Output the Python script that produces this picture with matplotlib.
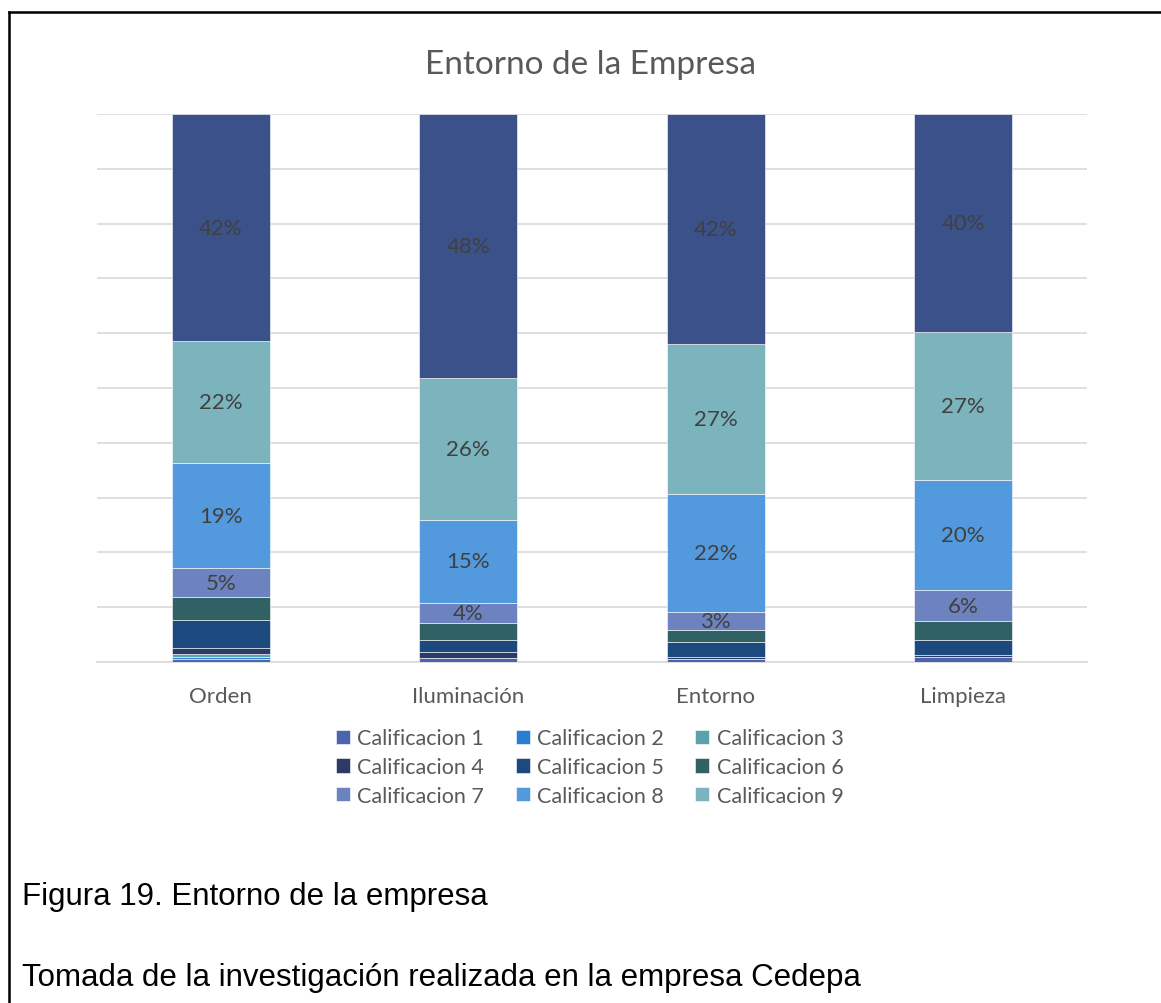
import numpy as np
import matplotlib
matplotlib.use("Agg")
import matplotlib.pyplot as plt
from matplotlib.lines import Line2D

# porcentajes por calificacion (1..10) para cada aspecto evaluado
categorias = ["Orden", "Iluminación", "Entorno", "Limpieza"]
series = ["Calificacion 1", "Calificacion 2", "Calificacion 3", "Calificacion 4",
          "Calificacion 5", "Calificacion 6", "Calificacion 7", "Calificacion 8",
          "Calificacion 9", "Calificacion 10"]

cal1 = [0.6, 0.7, 0.5, 0.9]
cal2 = [0.4, 0.0, 0.0, 0.0]
cal3 = [0.4, 0.0, 0.0, 0.0]
cal4 = [1.1, 1.1, 0.5, 0.3]
cal5 = [5.2, 2.2, 2.6, 2.9]
cal6 = [4.1, 3.1, 2.2, 3.3]
cal7 = [5.3, 3.6, 3.3, 5.8]
cal8 = [19.2, 15.3, 21.5, 20.1]
cal9 = [22.2, 25.8, 27.4, 27.0]
cal10 = [41.5, 48.2, 42.0, 39.7]

colores = ["#4A65AE", "#2A7DD4", "#5BA2AC", "#2B3A67", "#1C4A7E",
           "#306265", "#6C83BF", "#5399DD", "#7BB4BC", "#3B5189"]

valores = np.array([cal1, cal2, cal3, cal4, cal5, cal6, cal7, cal8, cal9, cal10])
etiquetar = [6, 7, 8, 9]  # solo se rotulan las calificaciones 7 a 10

fig = plt.figure(figsize=(11.61, 10.04), dpi=100)
ax = fig.add_axes([0.0835, 0.3396, 0.8527, 0.5458])

x = np.arange(len(categorias))
base = np.zeros(len(categorias))
barras = []
for i, fila in enumerate(valores):
    b = ax.bar(x, fila, 0.396, bottom=base, color=colores[i],
               edgecolor="white", linewidth=0.4, zorder=3, label=series[i])
    barras.append(b)
    if i in etiquetar:
        for xi, v, b0 in zip(x, fila, base):
            ax.text(xi, b0 + v / 2, f"{round(v):.0f}%", ha="center", va="center",
                    fontsize=16, color="#404040", family="Lato", zorder=4)
    base += fila

ax.set_xlim(-0.5, 3.5)
ax.set_ylim(0, 100)
ax.set_yticks(np.arange(0, 101, 10))
ax.yaxis.grid(True, color="#D9D9D9", linewidth=1.2, zorder=0)
ax.tick_params(axis="y", left=False, labelleft=False)
ax.tick_params(axis="x", length=0, pad=17, labelsize=16, labelcolor="#595959")
ax.set_xticks(x)
ax.set_xticklabels(categorias, family="Lato")
for s in ["top", "right", "left"]:
    ax.spines[s].set_visible(False)
ax.spines["bottom"].set_color("#D9D9D9")
ax.spines["bottom"].set_linewidth(1.2)

fig.text(0.509, 0.935, "Entorno de la Empresa", ha="center", va="center",
         fontsize=24, color="#595959", family="Lato")

# leyenda en 3 columnas, ordenada por filas (sin la calificacion 10)
orden = [0, 3, 6, 1, 4, 7, 2, 5, 8]
handles = [barras[i] for i in orden]
labels = [series[i] for i in orden]
fig.legend(handles, labels, ncol=3, loc="center", bbox_to_anchor=(0.508, 0.235),
           frameon=False, prop={"family": "Lato", "size": 15.5},
           labelcolor="#595959", handlelength=0.65, handleheight=0.65,
           handletextpad=0.35, columnspacing=1.45, labelspacing=0.4)

# marco del recuadro
fig.add_artist(Line2D([0.008, 0.008], [0.0, 0.987], transform=fig.transFigure,
                      color="black", linewidth=1.8))
fig.add_artist(Line2D([0.008, 1.0], [0.987, 0.987], transform=fig.transFigure,
                      color="black", linewidth=1.8))

fig.text(0.019, 0.099, "Figura 19. Entorno de la empresa", fontsize=22.5,
         family="Liberation Sans", color="black", va="baseline")
fig.text(0.019, 0.018, "Tomada de la investigación realizada en la empresa Cedepa",
         fontsize=22.5, family="Liberation Sans", color="black", va="baseline")

fig.savefig("out.png", dpi=100)
